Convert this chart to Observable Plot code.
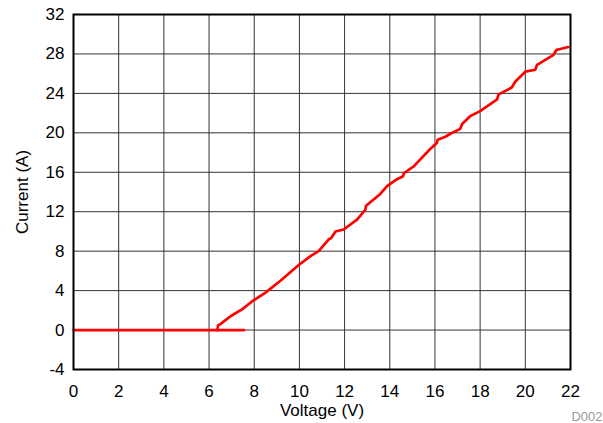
<!DOCTYPE html>
<html>
<head>
<meta charset="utf-8">
<script src="https://cdn.jsdelivr.net/npm/d3@7"></script>
<script src="https://cdn.jsdelivr.net/npm/@observablehq/plot@0.6"></script>
<style>
  html, body { margin: 0; padding: 0; background: #fff; }
  svg { display: block; }
</style>
</head>
<body>
<div id="chart"></div>
<script>
// Off-state segment (current stays at zero)
const offVoltage = [0, 7.55];
const offCurrent = [0, 0];

// Conducting segment
const onVoltage = [6.37, 6.40, 6.50, 6.95, 7.46, 7.90, 8.50, 9.16, 9.97, 10.49, 10.85, 11.30, 11.40, 11.60, 11.96, 12.55, 12.92, 12.95, 13.58, 13.88, 14.32, 14.59, 14.62, 15.06, 15.72, 16.09, 16.12, 16.46, 16.68, 17.12, 17.20, 17.57, 18.00, 18.75, 18.82, 19.40, 19.56, 20.00, 20.44, 20.52, 21.25, 21.37, 21.90];
const onCurrent = [0.0, 0.5, 0.6, 1.4, 2.1, 2.9, 3.8, 5.0, 6.6, 7.5, 8.0, 9.2, 9.3, 10.0, 10.2, 11.2, 12.2, 12.6, 13.8, 14.6, 15.3, 15.6, 15.9, 16.6, 18.2, 19.0, 19.3, 19.6, 19.9, 20.4, 20.9, 21.7, 22.2, 23.4, 23.9, 24.6, 25.2, 26.2, 26.4, 26.9, 27.9, 28.4, 28.7];

const xTicks = [0, 2, 4, 6, 8, 10, 12, 14, 16, 18, 20, 22];
const yTicks = [-4, 0, 4, 8, 12, 16, 20, 24, 28, 32];
const sourceTag = "D002";

const offData = offVoltage.map((v, i) => ({v, i: offCurrent[i]}));
const onData = onVoltage.map((v, i) => ({v, i: onCurrent[i]}));

const chart = Plot.plot({
  width: 603,
  height: 423,
  marginLeft: 73,
  marginRight: 33,
  marginTop: 14,
  marginBottom: 54,
  style: {fontFamily: "'Liberation Sans', Arial, sans-serif", fontSize: "17px", color: "#000", background: "#fff"},
  x: {domain: [0, 22]},
  y: {domain: [-4, 32]},
  marks: [
    Plot.gridX(xTicks, {stroke: "#333", strokeOpacity: 1, strokeWidth: 1}),
    Plot.gridY(yTicks, {stroke: "#333", strokeOpacity: 1, strokeWidth: 1}),
    Plot.line(offData, {x: "v", y: "i", stroke: "#ff0000", strokeWidth: 2.7}),
    Plot.line(onData, {x: "v", y: "i", stroke: "#ff0000", strokeWidth: 2.7}),
    Plot.frame({stroke: "#000", strokeWidth: 2}),
    Plot.axisX({ticks: xTicks, tickSize: 0, tickPadding: 15, tickFormat: d => String(d), label: "Voltage (V)", labelAnchor: "center", labelOffset: 46, labelArrow: "none", fontSize: 17}),
    Plot.axisY({ticks: yTicks, tickSize: 0, tickPadding: 9, tickFormat: d => String(d), label: "Current (A)", labelAnchor: "center", labelOffset: 58, labelArrow: "none", fontSize: 17}),
    Plot.text([sourceTag], {frameAnchor: "bottom-right", dx: 32, dy: 51, fill: "#999", fontSize: 13, textAnchor: "end"})
  ]
});
document.getElementById("chart").appendChild(chart);
</script>
</body>
</html>
